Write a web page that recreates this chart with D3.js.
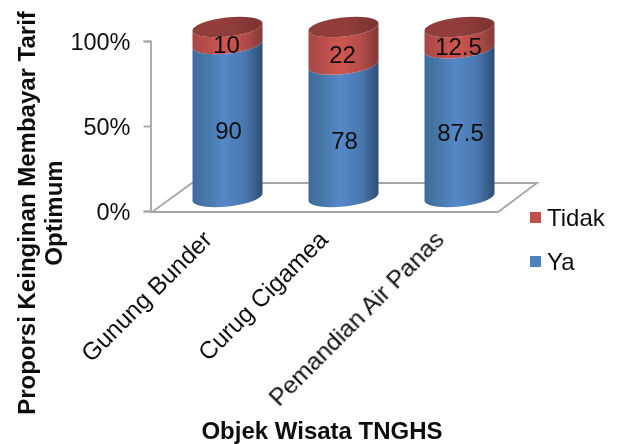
<!DOCTYPE html>
<html><head><meta charset="utf-8">
<script src="https://cdn.jsdelivr.net/npm/d3@7"></script>
<style>html,body{margin:0;padding:0;background:#fff}svg{display:block}text{font-family:"Liberation Sans",Arial,sans-serif;fill:#111}</style>
</head><body><svg id="c" width="618" height="444"></svg>
<script>
const categories = ["Gunung Bunder","Curug Cigamea","Pemandian Air Panas"];
const ya = [90,78,87.5];
const tidak = [10,22,12.5];
const tickValues = [0,50,100];
const legendItems = ["Tidak","Ya"];
const yTitleLines = ["Proporsi Keinginan Membayar Tarif","Optimum"];
const xTitle = "Objek Wisata TNGHS";

const svg = d3.select("#c");
const defs = svg.append("defs");
const blur = defs.append("filter").attr("id","soft").attr("x","-5%").attr("y","-5%").attr("width","110%").attr("height","110%");
blur.append("feGaussianBlur").attr("stdDeviation",0.45);
function grad(id,stops){
  const g = defs.append("linearGradient").attr("id",id).attr("x1",0).attr("x2",1).attr("y1",0).attr("y2",0);
  stops.forEach(s=>g.append("stop").attr("offset",s[0]).attr("stop-color",s[1]));
}
grad("blue",[[0,"#3d6a9f"],[.12,"#44739f"],[.45,"#5588c8"],[.75,"#4a78b0"],[1,"#2d4e75"]]);
grad("red",[[0,"#a54845"],[.12,"#b04c49"],[.45,"#d0564f"],[.75,"#b34c49"],[1,"#823a38"]]);
grad("cap",[[0,"#8f3d3a"],[.5,"#923e3b"],[1,"#7a3331"]]);

const root = svg.append("g").attr("filter","url(#soft)");
const yAxisScale = d3.scaleLinear().domain([0,100]).range([211,41]);
const yCyl = d3.scaleLinear().domain([0,100]).range([197,27]);
const x = d3.scaleBand().domain(categories).range([169.5,517.5]).padding(0);
const rx = 35, ry = 9.5, rot = -6.5, tilt = 4;
const gray = "#a6a6a6";

// floor
const floorPts = [[152,212],[498,212],[537,183],[192,183]];
root.append("path").attr("d",d3.line()(floorPts)+"Z").attr("fill","#fff").attr("stroke",gray).attr("stroke-width",1.8);

// value axis
const ax = root.append("g").attr("transform","translate(150.5,0)")
  .call(d3.axisLeft(yAxisScale).tickValues(tickValues).tickFormat(d=>d+"%").tickSize(7).tickPadding(13));
ax.selectAll("path,line").attr("stroke",gray).attr("stroke-width",1.8);
ax.selectAll("text").attr("font-size",23.5).attr("dy","0.35em").attr("fill","#111").attr("font-family",'"Liberation Sans",Arial,sans-serif');

// cylinders
function band(cx,y0,y1){
  return `M${cx-rx},${y1+tilt}L${cx-rx},${y0+tilt}A${rx},${ry} ${rot} 0 0 ${cx+rx},${y0-tilt}L${cx+rx},${y1-tilt}A${rx},${ry} ${rot} 0 1 ${cx-rx},${y1+tilt}Z`;
}
function disc(cx,y){
  return `M${cx-rx},${y+tilt}A${rx},${ry} ${rot} 0 1 ${cx+rx},${y-tilt}A${rx},${ry} ${rot} 0 1 ${cx-rx},${y+tilt}Z`;
}
categories.forEach((c,i)=>{
  const cx = x(c)+x.bandwidth()/2;
  const g = root.append("g");
  g.append("path").attr("d",band(cx,yCyl(0),yCyl(ya[i]))).attr("fill","url(#blue)");
  g.append("path").attr("d",band(cx,yCyl(ya[i]),yCyl(100))).attr("fill","url(#red)");
  g.append("path").attr("d",disc(cx,yCyl(100))).attr("fill","url(#cap)");
  g.append("text").attr("x",cx+1).attr("y",yCyl(ya[i]/2)+18).attr("text-anchor","middle").attr("font-size",24).text(ya[i]);
  g.append("text").attr("x",cx-1).attr("y",yCyl(ya[i]+tidak[i]/2)+17).attr("text-anchor","middle").attr("font-size",24).text(tidak[i]);
  // category label
  root.append("text").attr("transform",`translate(${cx-14},241) rotate(-45)`).attr("text-anchor","end").attr("font-size",24.5).text(c);
});

// legend
const legendColor = d3.scaleOrdinal().domain(legendItems).range(["#c0504d","#4f81bd"]);
const legendY = d3.scalePoint().domain(legendItems).range([218,262]);
legendItems.forEach(k=>{
  root.append("rect").attr("x",530).attr("y",legendY(k)-6).attr("width",11).attr("height",11).attr("fill",legendColor(k));
  root.append("text").attr("x",547).attr("y",legendY(k)+7.5).attr("font-size",24).text(k);
});

// titles
yTitleLines.forEach((t,i)=>{
  root.append("text").attr("transform",`translate(${35+i*27},213) rotate(-90)`).attr("text-anchor","middle").attr("font-size",24).attr("font-weight","bold").text(t);
});
root.append("text").attr("x",322).attr("y",438.5).attr("text-anchor","middle").attr("font-size",24).attr("font-weight","bold").text(xTitle);
</script></body></html>
